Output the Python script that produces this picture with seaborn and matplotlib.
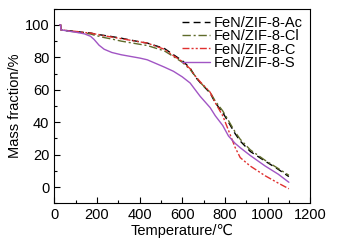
import matplotlib
matplotlib.use("Agg")
import matplotlib.pyplot as plt
import seaborn as sns
import pandas as pd
from matplotlib.ticker import MultipleLocator

# temperature (C) and mass fraction (%)
temp = [25, 30, 31, 60, 100, 141, 170, 187, 210, 234, 270, 314, 403, 436, 516,
        559, 600, 637, 661, 684, 731, 755, 790, 817, 848, 872, 919, 989, 1050, 1100]

mass_ac = [100, 100, 97, 96.5, 96, 95.3, 95, 94.5, 94, 93.5, 92.8, 91.8, 89.5, 88.8, 85.5,
           81.6, 78, 73.4, 68, 64.5, 58, 52, 46, 40, 33, 28.4, 22, 16, 11, 6.5]
mass_cl = [100, 100, 97, 96.3, 95.7, 94.8, 94.4, 93.7, 93, 92.2, 91.3, 90, 88, 87.3, 84,
           80.5, 77, 72.5, 68.5, 64.5, 58.5, 53, 47, 41, 34, 29.5, 23, 16.5, 11.5, 7.3]
mass_c = [100, 100, 97, 96.5, 96, 95.3, 95, 94.5, 94, 93.3, 92.5, 91.5, 89.5, 88.8, 85,
          81, 77.5, 73, 68.5, 65, 58.5, 52, 44, 35, 24.5, 18.2, 13, 7, 2.5, -1]
mass_s = [100, 100, 97, 96.3, 95.5, 94.5, 93, 91, 87.5, 85, 83, 81.6, 79.5, 78.5, 74,
          71.4, 68, 64.2, 60, 56, 49, 44, 38, 31.5, 27, 24.3, 19.5, 13, 8, 3]

labels = ["FeN/ZIF-8-Ac", "FeN/ZIF-8-Cl", "FeN/ZIF-8-C", "FeN/ZIF-8-S"]

sns.set_style("ticks")
plt.rcParams['font.family'] = ['Liberation Sans', 'DejaVu Sans']
plt.rcParams['xtick.direction'] = 'in'
plt.rcParams['ytick.direction'] = 'in'
plt.rcParams['text.color'] = 'black'
plt.rcParams['axes.labelcolor'] = 'black'
plt.rcParams['xtick.color'] = 'black'
plt.rcParams['ytick.color'] = 'black'
plt.rcParams['axes.edgecolor'] = 'black'

fig, ax = plt.subplots(figsize=(3.39, 2.48), dpi=100)

styles = [
    dict(color="black", dashes=(5, 3)),
    dict(color="#5f6b2a", dashes=(6, 2, 1.5, 2)),
    dict(color="#e0302f", dashes=(5, 1.5, 1.5, 1.5, 1.5, 1.5)),
    dict(color="#a155c4", dashes=()),
]
for series, lab, st in zip([mass_ac, mass_cl, mass_c, mass_s], labels, styles):
    df = pd.DataFrame({"T": temp, "m": series})
    sns.lineplot(data=df, x="T", y="m", ax=ax, label=lab,
                 color=st["color"], linewidth=1.0)
    ln = ax.get_lines()[-1]
    if st["dashes"]:
        ln.set_dashes(st["dashes"])

ax.set_xlim(0, 1200)
ax.set_ylim(-10, 110)
ax.xaxis.set_major_locator(MultipleLocator(200))
ax.xaxis.set_minor_locator(MultipleLocator(100))
ax.yaxis.set_major_locator(MultipleLocator(20))
ax.yaxis.set_minor_locator(MultipleLocator(10))
ax.tick_params(which="major", length=4, width=0.8, labelsize=10.5)
ax.tick_params(which="minor", length=2, width=0.8)
for sp in ax.spines.values():
    sp.set_visible(True)
    sp.set_linewidth(0.8)

ax.set_xlabel("Temperature/℃", fontsize=10.5, labelpad=1)
ax.set_ylabel("Mass fraction/%", fontsize=10.5, labelpad=2)

leg = ax.legend(loc="upper right", frameon=False, fontsize=10.5, handlelength=1.9,
                handletextpad=0.3, labelspacing=-0.05, borderaxespad=0.1)
for h, st in zip(leg.get_lines(), styles):
    if st["dashes"]:
        h.set_dashes(st["dashes"])

fig.subplots_adjust(left=0.16, right=0.915, top=0.965, bottom=0.18)
fig.savefig("out.png", dpi=100)
